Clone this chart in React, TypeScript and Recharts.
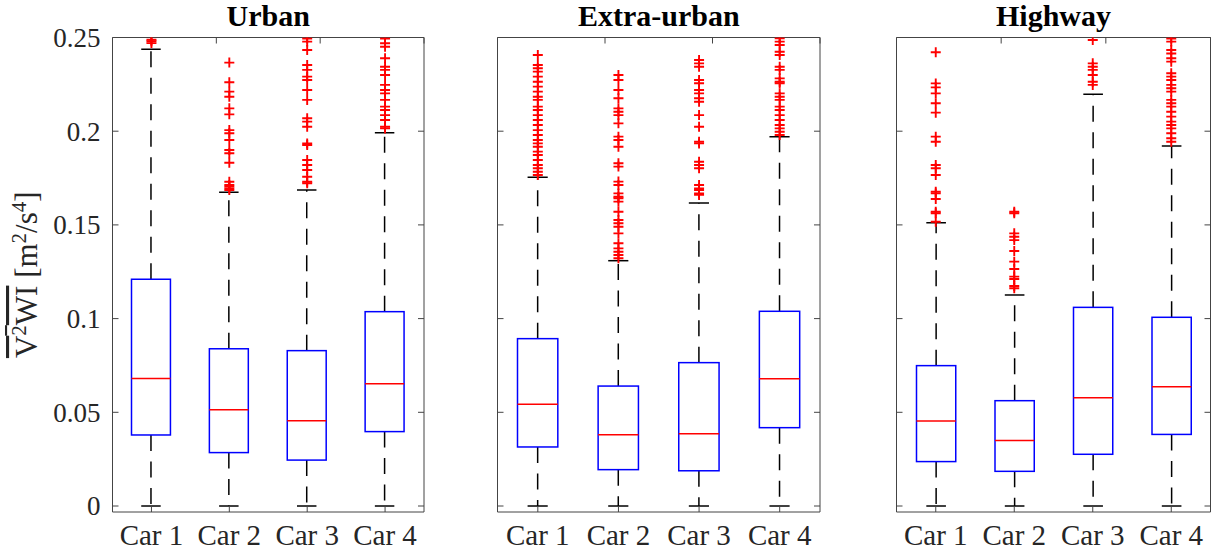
import React from "react";
import { Bar, ComposedChart, Scatter, XAxis, YAxis } from "recharts";

const cars = ["Car 1", "Car 2", "Car 3", "Car 4"];
const yTicks = [0, 0.05, 0.1, 0.15, 0.2, 0.25];
const yDomain = [-0.0032, 0.25];

// per car: lower whisker, q1, median, q3, upper whisker
const urbanStats = [
  [0, 0.0379, 0.0681, 0.121, 0.2437],
  [0, 0.0285, 0.0514, 0.0839, 0.1674],
  [0, 0.0245, 0.0455, 0.0829, 0.1686],
  [0, 0.0397, 0.0653, 0.1037, 0.1992],
];
const extraStats = [
  [0, 0.0315, 0.0543, 0.0893, 0.1754],
  [0, 0.0194, 0.038, 0.064, 0.1309],
  [0, 0.0188, 0.0386, 0.0765, 0.1617],
  [0, 0.0418, 0.0679, 0.1039, 0.1971],
];
const highwayStats = [
  [0, 0.0237, 0.0454, 0.0749, 0.1512],
  [0, 0.0185, 0.035, 0.0562, 0.1126],
  [0, 0.0276, 0.0578, 0.106, 0.2197],
  [0, 0.0382, 0.0637, 0.1007, 0.1921],
];

const urbanOutliers = [
  [0.247, 0.248, 0.2488],
  [0.2366, 0.2261, 0.2211, 0.2184, 0.2122, 0.209, 0.2006, 0.1989, 0.1953, 0.19, 0.1882, 0.1832, 0.173, 0.1713, 0.1704, 0.1695, 0.1686],
  [0.2495, 0.2478, 0.2433, 0.2353, 0.2327, 0.2291, 0.2273, 0.222, 0.2167, 0.2069, 0.2051, 0.2024, 0.1935, 0.1926, 0.1846, 0.182, 0.1793, 0.1757, 0.173, 0.1722],
  [0.2495, 0.2469, 0.2451, 0.2389, 0.2344, 0.2327, 0.23, 0.2247, 0.222, 0.2202, 0.2167, 0.2131, 0.2113, 0.2086, 0.206, 0.2024, 0.2015],
];
const extraOutliers = [
  [0.2407, 0.2353, 0.2336, 0.2318, 0.2291, 0.2264, 0.2238, 0.2211, 0.2184, 0.2167, 0.2131, 0.2113, 0.2086, 0.206, 0.2033, 0.2006, 0.198, 0.1953, 0.1935, 0.1917, 0.1891, 0.1873, 0.1846, 0.182, 0.1802, 0.1784, 0.1766],
  [0.23, 0.2273, 0.222, 0.2176, 0.2122, 0.2104, 0.2086, 0.2042, 0.1971, 0.1953, 0.1917, 0.1829, 0.1811, 0.1731, 0.1713, 0.1668, 0.165, 0.1642, 0.1624, 0.157, 0.1526, 0.1509, 0.149, 0.1455, 0.1402, 0.1375, 0.1357, 0.1339, 0.1322],
  [0.238, 0.2362, 0.2344, 0.2273, 0.2256, 0.222, 0.2202, 0.2176, 0.2157, 0.2086, 0.2024, 0.1944, 0.1935, 0.1837, 0.182, 0.1802, 0.1713, 0.1695, 0.1686, 0.1668, 0.166],
  [0.2496, 0.2478, 0.246, 0.2424, 0.2407, 0.2344, 0.2327, 0.2282, 0.2264, 0.2256, 0.2202, 0.2184, 0.2167, 0.2131, 0.2113, 0.2086, 0.206, 0.2033, 0.2015, 0.1997, 0.198],
];
const highwayOutliers = [
  [0.2421, 0.2255, 0.2234, 0.2202, 0.2149, 0.2099, 0.1971, 0.1944, 0.182, 0.1802, 0.1766, 0.1677, 0.1668, 0.1638, 0.157, 0.1562, 0.1517],
  [0.157, 0.1562, 0.1455, 0.1437, 0.1419, 0.1361, 0.1304, 0.1265, 0.1224, 0.1211, 0.1174, 0.1162],
  [0.2487, 0.2362, 0.2344, 0.2327, 0.23, 0.2264, 0.2247],
  [0.2495, 0.2478, 0.2433, 0.2415, 0.2389, 0.2371, 0.2309, 0.2291, 0.2273, 0.2247, 0.2229, 0.2211, 0.2167, 0.2149, 0.2131, 0.2104, 0.2078, 0.2051, 0.2033, 0.2015, 0.1989, 0.1962, 0.1944],
];

const FONT = "Liberation Serif";
const AXIS = "#444";
const TXT = "#262626";
const LW = 1.5;
const TICK = 6;
const H = 554;
const M_TOP = 36.5;
const M_BOTTOM = 12;
const X_AXIS_H = 30;
const PLOT_TOP = M_TOP + 1;
const PLOT_BOTTOM = H - M_BOTTOM - X_AXIS_H;

const UpperWhisker = (p: any) => {
  const cx = p.x + p.width / 2;
  return (
    <g>
      <line x1={cx} x2={cx} y1={p.y + p.height} y2={p.y} stroke="#000" strokeWidth={LW} strokeDasharray="16 10.5" />
      <line x1={cx - p.width / 4} x2={cx + p.width / 4} y1={p.y} y2={p.y} stroke="#000" strokeWidth={LW} />
    </g>
  );
};

const LowerWhisker = (p: any) => {
  const cx = p.x + p.width / 2;
  const yb = p.y + p.height;
  return (
    <g>
      <line x1={cx} x2={cx} y1={p.y} y2={yb} stroke="#000" strokeWidth={LW} strokeDasharray="16 10.5" />
      <line x1={cx - p.width / 4} x2={cx + p.width / 4} y1={yb} y2={yb} stroke="#000" strokeWidth={LW} />
    </g>
  );
};

const BoxShape = (p: any) => (
  <rect x={p.x} y={p.y} width={p.width} height={p.height} fill="none" stroke="#0000ff" strokeWidth={LW} />
);

// range is [median, q3], the red line sits at the bottom edge
const MedianShape = (p: any) => (
  <line x1={p.x} x2={p.x + p.width} y1={p.y + p.height} y2={p.y + p.height} stroke="#ff0000" strokeWidth={LW} />
);

const Plus = (p: any) => (
  <path
    d={`M${p.cx - 5},${p.cy}H${p.cx + 5}M${p.cx},${p.cy - 5}V${p.cy + 5}`}
    stroke="#ff0000"
    strokeWidth={1.9}
    fill="none"
  />
);

// inward tick marks, MATLAB style; the cross position comes from the plot frame
const BottomTick = (p: any) => (
  <g>
    <line x1={p.x} x2={p.x} y1={PLOT_BOTTOM} y2={PLOT_BOTTOM - TICK} stroke={AXIS} strokeWidth={1} />
    <text x={p.x} y={PLOT_BOTTOM + 33} textAnchor="middle" fontFamily={FONT} fontSize={29} fill={TXT}>
      {p.payload.value}
    </text>
  </g>
);

const TopTick = (p: any) => (
  <line x1={p.x} x2={p.x} y1={PLOT_TOP} y2={PLOT_TOP + TICK} stroke={AXIS} strokeWidth={1} />
);

const makeRightTick = (x0: number) => (p: any) => (
  <line x1={x0} x2={x0 - TICK} y1={p.y} y2={p.y} stroke={AXIS} strokeWidth={1} />
);

const makeLeftTick = (showY: boolean, x0: number) => (p: any) => (
  <g>
    <line x1={x0} x2={x0 + TICK} y1={p.y} y2={p.y} stroke={AXIS} strokeWidth={1} />
    {showY && (
      <text x={x0 - 12} y={p.y} dy="0.35em" textAnchor="end" fontFamily={FONT} fontSize={27} fill={TXT}>
        {String(p.payload.value)}
      </text>
    )}
  </g>
);

const YLabel = (props: any) => {
  const vb = props.viewBox;
  const cy = vb.y + vb.height / 2;
  return (
    <text
      transform={`translate(37,${cy}) rotate(-90)`}
      textAnchor="middle"
      fontFamily={FONT}
      fontSize={31}
      fill={TXT}
    >
      <tspan style={{ textDecoration: "overline" }}>
        V<tspan dy={-11} fontSize={21}>2</tspan>
        <tspan dy={11}>WI</tspan>
      </tspan>
      <tspan> [m</tspan>
      <tspan dy={-11} fontSize={21}>2</tspan>
      <tspan dy={11}>/s</tspan>
      <tspan dy={-11} fontSize={21}>4</tspan>
      <tspan dy={11}>]</tspan>
    </text>
  );
};

function Panel({ title, stats, outliers, left, width, axisWidth, marginRight, showY }: any) {
  const plotRight = width - marginRight - 1;
  const plotW = plotRight - axisWidth;
  const barW = plotW / 8;
  const rows = cars.map((car, i) => {
    const s = stats[i];
    return { car, low: [s[0], s[1]], box: [s[1], s[3]], med: [s[2], s[3]], up: [s[3], s[4]] };
  });
  const points = cars.flatMap((car, i) => outliers[i].map((v: number) => ({ car, v })));

  const TitleLabel = () => (
    <text x={axisWidth + plotW / 2} y={PLOT_TOP - 12} textAnchor="middle" fontFamily={FONT} fontWeight="bold" fontSize={30} fill="#000">
      {title}
    </text>
  );

  return (
    <div style={{ position: "absolute", left, top: 0 }}>
      <ComposedChart
        width={width}
        height={H}
        data={rows}
        margin={{ top: M_TOP, right: marginRight, bottom: M_BOTTOM, left: 0 }}
        barSize={barW}
        barGap={-barW}
      >
        <XAxis
          dataKey="car"
          type="category"
          allowDuplicatedCategory={false}
          interval={0}
          height={X_AXIS_H}
          tickLine={false}
          tick={BottomTick}
          stroke={AXIS}
        />
        <XAxis
          xAxisId="t"
          orientation="top"
          type="number"
          domain={[0.5, 4.5]}
          ticks={[1, 2, 3, 4]}
          interval={0}
          height={1}
          tickLine={false}
          tick={TopTick}
          stroke={AXIS}
          label={TitleLabel}
        />
        <YAxis
          type="number"
          domain={yDomain}
          allowDataOverflow
          ticks={yTicks}
          interval={0}
          width={axisWidth}
          tickLine={false}
          tick={makeLeftTick(!!showY, axisWidth)}
          stroke={AXIS}
          label={showY ? YLabel : undefined}
        />
        <YAxis
          yAxisId="r"
          orientation="right"
          type="number"
          domain={yDomain}
          allowDataOverflow
          ticks={yTicks}
          interval={0}
          width={1}
          tickLine={false}
          tick={makeRightTick(plotRight)}
          stroke={AXIS}
        />
        <Bar data={rows} dataKey="low" shape={LowerWhisker} isAnimationActive={false} />
        <Bar data={rows} dataKey="up" shape={UpperWhisker} isAnimationActive={false} />
        <Bar data={rows} dataKey="box" shape={BoxShape} isAnimationActive={false} />
        <Bar data={rows} dataKey="med" shape={MedianShape} isAnimationActive={false} />
        <Scatter data={points} dataKey="v" shape={Plus} isAnimationActive={false} />
      </ComposedChart>
    </div>
  );
}

export default function App() {
  return (
    <div style={{ position: "absolute", left: 0, top: 0, width: 1223, height: 554, background: "#fff" }}>
      <Panel title="Urban" stats={urbanStats} outliers={urbanOutliers} left={0} width={440} axisWidth={112.5} marginRight={15} showY />
      <Panel title="Extra-urban" stats={extraStats} outliers={extraOutliers} left={440} width={390} axisWidth={57.5} marginRight={9} />
      <Panel title="Highway" stats={highwayStats} outliers={highwayOutliers} left={830} width={393} axisWidth={66.5} marginRight={11.5} />
    </div>
  );
}
